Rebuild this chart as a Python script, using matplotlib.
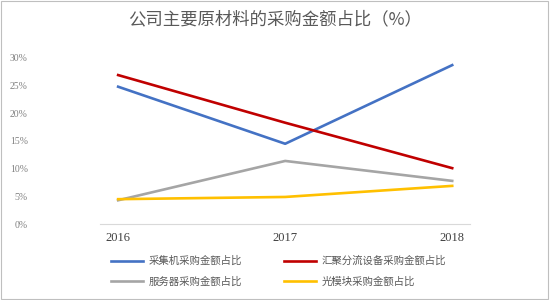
# Purchase share of main raw materials, 2016-2018
import matplotlib
matplotlib.use("Agg")
from matplotlib import pyplot as plt
from matplotlib.patches import Rectangle

plt.rcParams['font.family'] = ['Noto Sans CJK SC', 'DejaVu Sans']

years = ["2016", "2017", "2018"]
collector = [24.8, 14.5, 28.7]
aggregation = [26.9, 18.3, 10.1]
server = [4.3, 11.4, 7.8]
optical = [4.5, 4.9, 6.9]
yticks = [0, 5, 10, 15, 20, 25, 30]

fig = plt.figure(figsize=(5.5, 3.0), dpi=100)
ax = fig.add_axes([0.182, 0.253, 0.673, 0.554])

x = range(len(years))
l1, = ax.plot(x, collector, color="#4472C4", lw=1.9, label="采集机采购金额占比")
l2, = ax.plot(x, aggregation, color="#C00000", lw=1.9, label="汇聚分流设备采购金额占比")
l3, = ax.plot(x, server, color="#A5A5A5", lw=1.9, label="服务器采购金额占比")
l4, = ax.plot(x, optical, color="#FFC000", lw=1.9, label="光模块采购金额占比")

ax.set_xlim(-0.108, 2.108)
ax.set_ylim(0, 30)
ax.set_xticks(list(x))
ax.set_xticklabels(years, family="Liberation Serif", fontsize=9, color="#404040")
ax.set_yticks(yticks)
ax.set_yticklabels([f"{v}%" for v in yticks], family="Liberation Serif",
                   fontsize=7, color="#808080")
ax.tick_params(axis="y", length=0, pad=52)
ax.tick_params(axis="x", length=0, pad=6)
for s in ["top", "right", "left"]:
    ax.spines[s].set_visible(False)
ax.spines["bottom"].set_color("#D9D9D9")
ax.spines["bottom"].set_linewidth(0.8)

fig.text(0.5, 0.935, "公司主要原材料的采购金额占比（%）", ha="center", va="center",
         fontsize=12.5, color="#595959")

fig.legend(handles=[l1, l3, l2, l4], ncol=2, loc="center left",
           bbox_to_anchor=(0.185, 0.095), frameon=False, fontsize=7.5,
           handlelength=3.1, handletextpad=0.5, columnspacing=4.0,
           labelspacing=1.0, labelcolor="#595959")

fig.patches.append(Rectangle((0.001, 0.003), 0.995, 0.994, transform=fig.transFigure,
                             fill=False, edgecolor="#BFBFBF", lw=0.8))

fig.savefig("out.png", dpi=100)
